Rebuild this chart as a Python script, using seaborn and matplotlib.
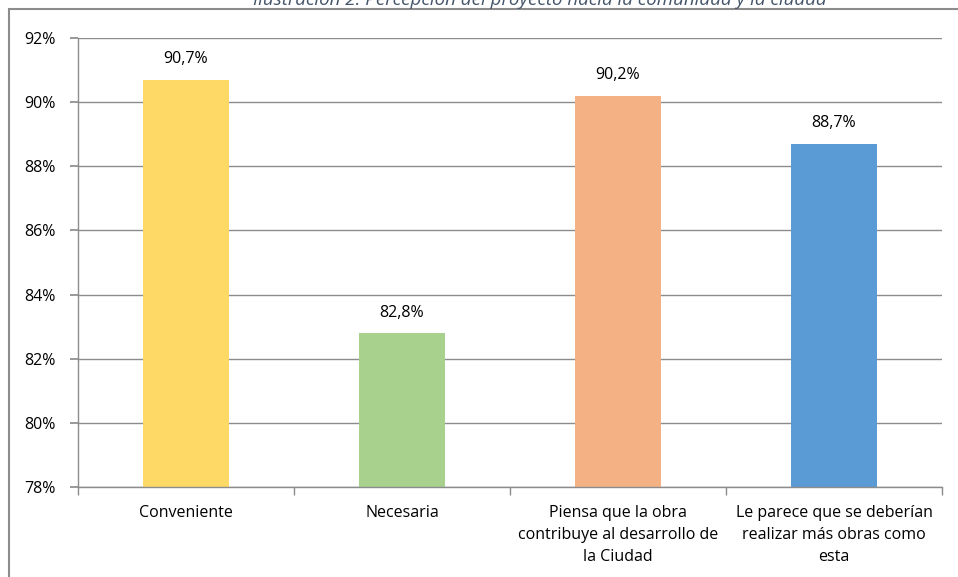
import matplotlib
matplotlib.use("Agg")
import matplotlib.pyplot as plt
import seaborn as sns
import pandas as pd
from matplotlib.ticker import FuncFormatter, FixedLocator
from matplotlib.patches import Rectangle

categories = ["Conveniente", "Necesaria",
              "Piensa que la obra\ncontribuye al desarrollo de\nla Ciudad",
              "Le parece que se deberían\nrealizar más obras como\nesta"]
values = [0.907, 0.828, 0.902, 0.887]
value_labels = ["90,7%", "82,8%", "90,2%", "88,7%"]
colors = ["#FFD966", "#A9D18E", "#F4B183", "#5B9BD5"]
title = "Ilustración 2. Percepción del proyecto hacia la comunidad y la ciudad"

sns.set_theme(style="white")
plt.rcParams['font.family'] = ['Open Sans', 'DejaVu Sans']

df = pd.DataFrame({"cat": categories, "val": values})
fig = plt.figure(figsize=(9.58, 5.77), dpi=100)
ax = fig.add_axes([78/958, 1-487/577, (942-78)/958, (487-38)/577])

sns.barplot(data=df, x="cat", y="val", hue="cat", palette=colors, legend=False,
            width=0.4, ax=ax, saturation=1, linewidth=0)

ax.set_ylim(0.78, 0.92)
ax.set_xlim(-0.5, 3.5)
ax.yaxis.set_major_locator(FixedLocator([0.78, 0.80, 0.82, 0.84, 0.86, 0.88, 0.90, 0.92]))
ax.yaxis.set_major_formatter(FuncFormatter(lambda v, p: f"{round(v*100):d}%"))
ax.grid(axis='y', color='#8C8C8C', linewidth=1)
ax.set_axisbelow(True)
ax.set_xlabel("")
ax.set_ylabel("")
for s in ["top", "right"]:
    ax.spines[s].set_visible(False)
for s in ["left", "bottom"]:
    ax.spines[s].set_color('#8C8C8C')
    ax.spines[s].set_linewidth(1)

ax.tick_params(axis='y', left=True, length=6, color='#8C8C8C', labelsize=11.5, pad=10, labelcolor='black')
ax.tick_params(axis='x', which='major', bottom=False, length=0, labelsize=11.5, pad=13, labelcolor='black')
ax.set_xticks([-0.5, 0.5, 1.5, 2.5, 3.5], minor=True)
ax.tick_params(axis='x', which='minor', bottom=True, length=6, color='#8C8C8C')
for lbl in ax.get_xticklabels():
    lbl.set_linespacing(1.5)

labs_iter = iter(value_labels)
for cont in ax.containers:
    ax.bar_label(cont, labels=[next(labs_iter) for _ in cont], padding=9, fontsize=11.5, color='black')

fig.patches.append(Rectangle((9/958, -0.1), 1.2, 1 - 9/577 + 0.1, transform=fig.transFigure,
                             fill=False, edgecolor='#8C8C8C', linewidth=1.5))
fig.text(540/958, 1 - 5/577, title, ha='center', va='baseline', fontsize=13.5,
         style='italic', color='#44546A')

fig.savefig("out.png", dpi=100)
